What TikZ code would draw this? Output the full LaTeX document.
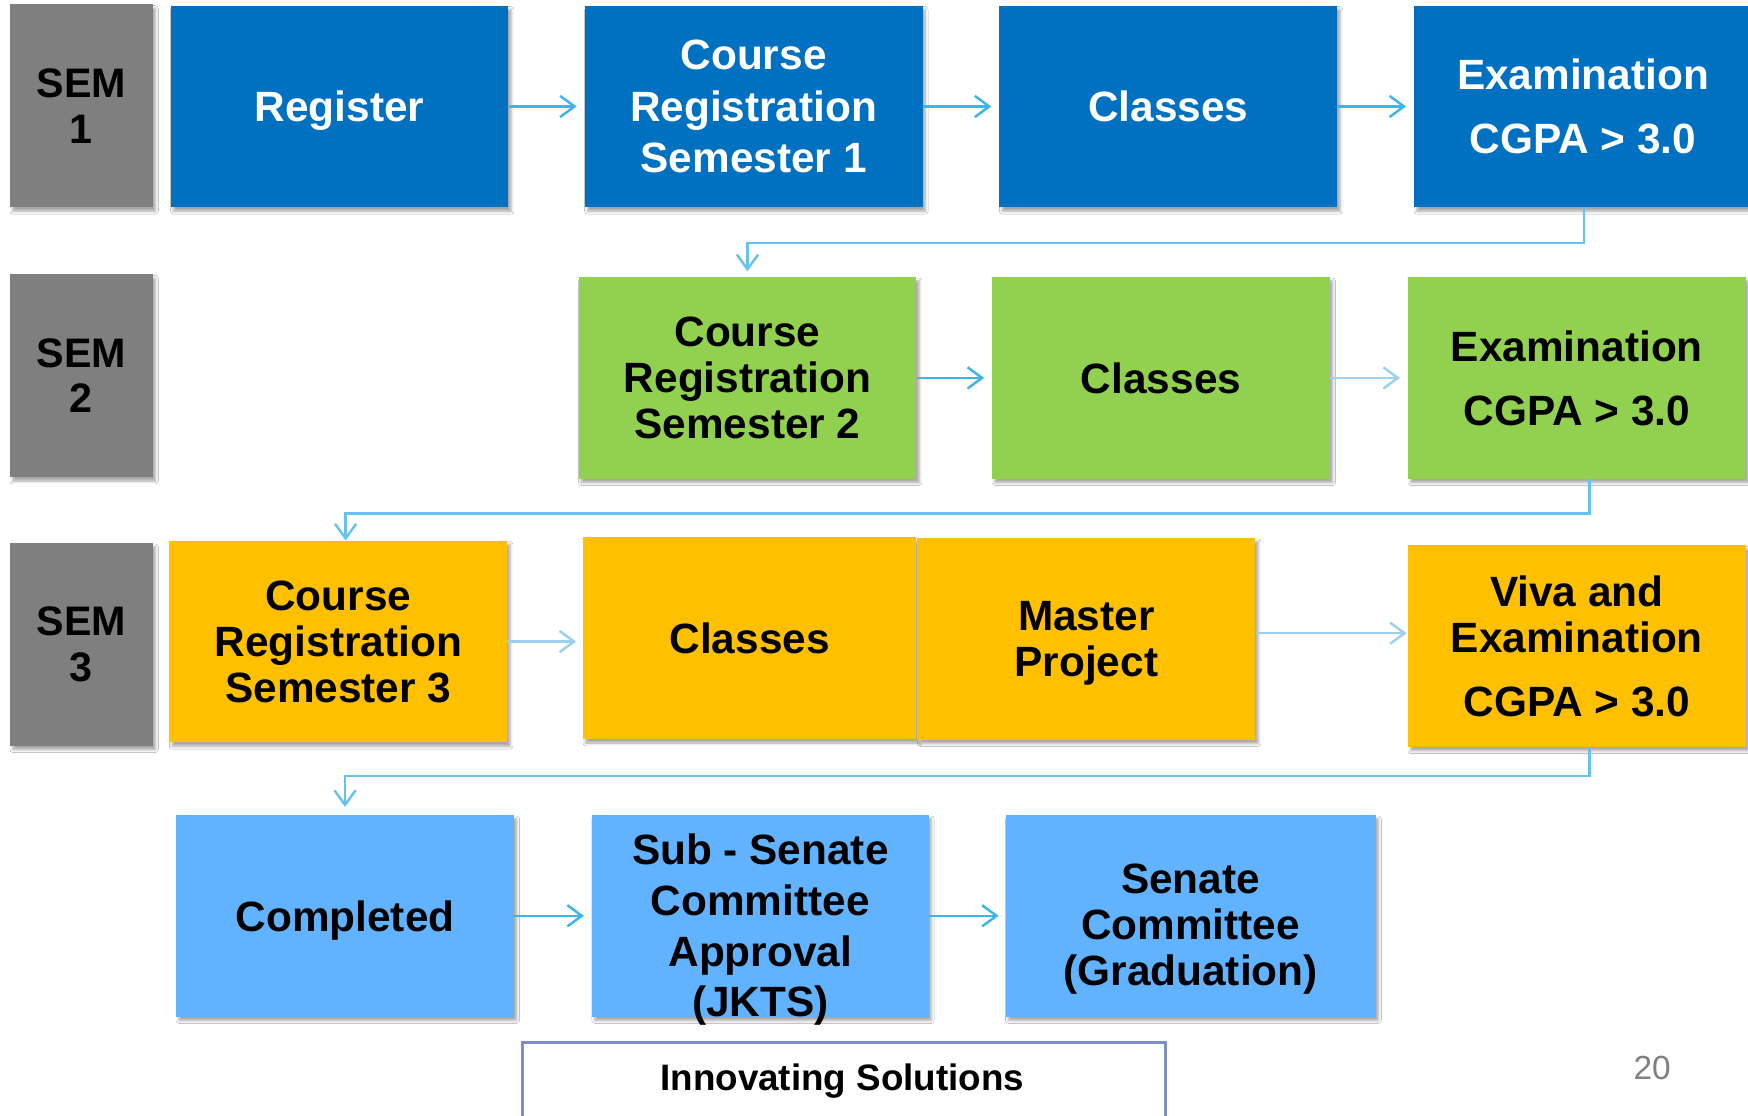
\documentclass[tikz,border=0pt]{standalone}
\usepackage{fontspec}
\setmainfont{Liberation Sans}
\usetikzlibrary{arrows.meta,shadows.blur,calc}
\definecolor{semgray}{HTML}{7F7F7F}
\definecolor{rowblue}{HTML}{0070C0}
\definecolor{rowgreen}{HTML}{92D050}
\definecolor{rowyellow}{HTML}{FFC000}
\definecolor{rowlight}{HTML}{61B3FF}
\definecolor{arrowc}{HTML}{3DB5E8}
\definecolor{arrowl}{HTML}{9ED0EE}
\definecolor{arrowm}{HTML}{66C2EC}
\definecolor{innob}{HTML}{7A8FCC}
\tikzset{
  box/.style={rectangle, minimum width=303pt, minimum height=181pt, inner sep=0pt,
    align=center, text depth=0pt,
    font=\bfseries\fontsize{38}{41.5}\selectfont,
    blur shadow={shadow xshift=2.5pt, shadow yshift=-3.5pt, shadow blur radius=2.5pt, shadow opacity=35}},
  sembox/.style={box, fill=semgray, text=black, minimum width=128pt, minimum height=182pt,
    font=\bfseries\fontsize{37}{41}\selectfont},
  bluebox/.style={box, fill=rowblue, text=white},
  greenbox/.style={box, fill=rowgreen, text=black},
  yellowbox/.style={box, fill=rowyellow, text=black},
  lightbox/.style={box, fill=rowlight, text=black},
  boxtext/.style={inner sep=0pt, align=center, text depth=0pt, font=\bfseries\fontsize{38}{41.5}\selectfont},
  flow/.style={draw=arrowc, line width=2.2pt, -{Straight Barb[length=13pt,width=19pt,line width=2.2pt]}},
  link/.style={flow, draw=arrowm},
}
\begin{document}
\begin{tikzpicture}[x=1pt,y=-1pt]
\useasboundingbox (0,0) rectangle (1568,1001);
\fill[white] (0,0) rectangle (1568,1001);

% Row 1
\node[sembox] (s1) at (73,95) {SEM\\1};
\node[bluebox] (reg) at (304.5,95.5) {Register};
\node[bluebox, font=\bfseries\fontsize{38}{46}\selectfont] (cr1) at (676,95.5) {Course\\Registration\\Semester 1};
\node[bluebox] (cl1) at (1048,95.5) {Classes};
\node[bluebox] (ex1) at (1420,95.5) {Examination\\[16pt]CGPA > 3.0};

% Row 2
\node[sembox] (s2) at (73,337) {SEM\\2};
\node[greenbox] (cr2) at (670.5,339) {Course\\Registration\\Semester 2};
\node[greenbox] (cl2) at (1041.5,339) {Classes};
\node[greenbox] (ex2) at (1414.5,339) {Examination\\[16pt]CGPA > 3.0};

% Row 3
\node[sembox] (s3) at (73,578) {SEM\\3};
\node[yellowbox] (cr3) at (303.5,575.5) {Course\\Registration\\Semester 3};
\node[yellowbox, minimum width=299pt] (cl3) at (672.5,572.5) {Classes};
\node[yellowbox] (mp) at (974.5,573) {Master\\Project};
\node[yellowbox] (viva) at (1414.5,579.5) {Viva and\\Examination\\[16pt]CGPA > 3.0};

% Row 4
\node[lightbox] (comp) at (309.5,821.5) {Completed};
\node[lightbox, minimum width=302pt] (sub) at (682,821.5) {};
\node[boxtext, font=\bfseries\fontsize{38}{45.5}\selectfont] (subt) at ([yshift=-8.5pt]sub.center) {Sub - Senate\\Committee\\Approval\\(JKTS)};
\node[lightbox, minimum width=332pt] (sen) at (1068,821.5) {};
\node[boxtext] (sent) at ([yshift=-8pt]sen.center) {Senate\\Committee\\(Graduation)};

% Footer
\node[draw=innob, line width=3pt, minimum width=577pt, minimum height=90pt, inner sep=0pt, anchor=north west] (inno) at (467,933.5) {};
\node[inner sep=0pt, font=\bfseries\fontsize{33}{36}\selectfont] (innot) at (755.5,970) {Innovating Solutions};
\node[inner sep=0pt, text=gray, font=\fontsize{30}{32}\selectfont] (pg) at (1482,958) {20};

% Row 1 arrows
\draw[flow, shorten >=7pt] (reg.east) -- (cr1.west);
\draw[flow, shorten >=7pt] (cr1.east) -- (cl1.west);
\draw[flow, shorten >=7pt] (cl1.east) -- (ex1.west);
\draw[link, shorten >=5pt] ([xshift=1pt]ex1.south) -- ++(0,32) -| (cr2.north);

% Row 2 arrows
\draw[flow, shorten >=7pt] (cr2.east) -- (cr2.east -| cl2.west);
\draw[flow, draw=arrowl, shorten >=7pt] (cl2.east) -- (cl2.east -| ex2.west);
\draw[link] ([xshift=11.5pt]ex2.south) -- ++(0,31) -| ([xshift=6.5pt]cr3.north);

% Row 3 arrows
\draw[flow, draw=arrowl, shorten >=6pt] (cr3.east) -- (cr3.east -| cl3.west);
\draw[flow, draw=arrowl, shorten >=1pt] ([yshift=5pt]mp.east) -- ([yshift=5pt]mp.east -| viva.west);
\draw[link, shorten >=7pt] ([xshift=11.5pt]viva.south) -- ++(0,26) -| (comp.north);

% Row 4 arrows
\draw[flow, shorten >=7pt] (comp.east) -- (sub.west);
\draw[flow, shorten >=6pt] (sub.east) -- (sen.west);
\end{tikzpicture}
\end{document}
